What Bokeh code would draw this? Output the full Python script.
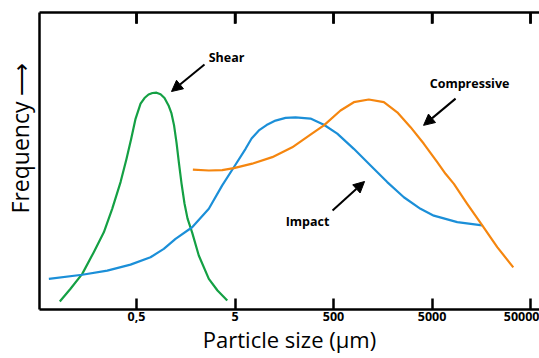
from bokeh.plotting import figure
from bokeh.models import FixedTicker, LinearAxis, Range1d, Arrow, NormalHead
from bokeh.core.properties import value
from bokeh.embed import file_html
from bokeh.resources import INLINE

# tick positions (equally spaced) and labels
tick_pos = [0, 1, 2, 3, 4]
tick_labels = ["0,5", "5", "500", "5000", "50000"]

# Shear (green)
shear_x = [-0.779, -0.670, -0.551, -0.434, -0.332, -0.247, -0.162, -0.102, -0.054, -0.010,
           0.041, 0.081, 0.122, 0.162, 0.203, 0.244, 0.284, 0.325, 0.355, 0.381,
           0.406, 0.431, 0.457, 0.487, 0.518, 0.565, 0.632, 0.734, 0.822, 0.921]
shear_y = [2.7, 7.0, 12.0, 19.3, 26.0, 33.9, 42.9, 50.7, 57.5, 64.2,
           69.3, 71.2, 72.4, 72.9, 73.0, 72.5, 71.2, 68.7, 66.0, 62.0,
           56.2, 49.2, 42.4, 35.7, 30.6, 25.9, 18.2, 10.3, 6.4, 3.0]

# Impact (blue)
impact_x = [-0.890, -0.551, -0.297, -0.061, 0.142, 0.277, 0.396, 0.565, 0.734, 0.870,
            0.988, 1.107, 1.168, 1.242, 1.320, 1.411, 1.513, 1.614, 1.766, 1.902,
            2.038, 2.206, 2.376, 2.545, 2.714, 2.883, 3.018, 3.137, 3.256, 3.510]
impact_y = [10.3, 11.7, 13.1, 15.1, 17.6, 20.4, 23.8, 27.7, 33.9, 41.8,
            47.9, 54.1, 57.6, 60.3, 62.1, 63.6, 64.5, 64.7, 64.3, 62.2,
            59.2, 54.1, 48.5, 42.9, 37.8, 33.9, 31.6, 30.5, 29.4, 28.3]

# Compressive (orange)
comp_x = [0.572, 0.734, 0.870, 0.988, 1.175, 1.378, 1.581, 1.766, 1.902, 2.071,
          2.206, 2.358, 2.511, 2.647, 2.782, 2.917, 3.053, 3.137, 3.222, 3.357,
          3.510, 3.662, 3.825]
comp_y = [47.1, 46.8, 46.9, 47.6, 49.1, 51.3, 54.6, 58.9, 62.0, 67.0,
          69.8, 70.7, 69.8, 66.4, 61.4, 55.8, 49.6, 45.7, 42.3, 35.6,
          28.3, 21.0, 14.2]

# annotations: label text, label position, arrow start, arrow end
ann_text = ["Shear", "Compressive", "Impact"]
ann_x = [0.914, 3.381, 1.736]
ann_y = [84.8, 76.1, 29.6]
arr_x0 = [0.690, 3.239, 1.990]
arr_y0 = [82.5, 71.0, 33.3]
arr_x1 = [0.355, 2.914, 2.315]
arr_y1 = [73.4, 62.0, 43.1]

FONT = "Open Sans"

p = figure(width=539, height=358, output_backend="svg", toolbar_location=None,
           x_range=Range1d(-0.985, 4.091), y_range=Range1d(0, 100),
           min_border_left=39, min_border_right=0, min_border_top=12, min_border_bottom=49)
p.outline_line_color = None
p.xgrid.visible = False
p.ygrid.visible = False
p.background_fill_color = "white"
p.border_fill_color = "white"

xa = p.xaxis[0]
xa.ticker = FixedTicker(ticks=tick_pos)
xa.major_label_overrides = {t: l for t, l in zip(tick_pos, tick_labels)}
xa.major_tick_in = 11
xa.major_tick_out = 0
xa.minor_tick_line_color = None
xa.axis_line_width = 2.5
xa.major_tick_line_width = 2.5
xa.axis_line_color = "black"
xa.major_tick_line_color = "black"
xa.major_label_text_font = FONT
xa.major_label_text_font_style = "bold"
xa.major_label_text_font_size = "12.5px"
xa.major_label_text_color = "black"
xa.major_label_standoff = 2
xa.axis_label = "Particle size (μm)"
xa.axis_label_text_font = FONT
xa.axis_label_text_font_style = "normal"
xa.axis_label_text_font_size = "22px"
xa.axis_label_text_color = "black"
xa.axis_label_standoff = 0

top = LinearAxis(ticker=FixedTicker(ticks=tick_pos))
top.major_tick_in = 11
top.major_tick_out = 0
top.minor_tick_line_color = None
top.axis_line_width = 2.5
top.major_tick_line_width = 2.5
top.axis_line_color = "black"
top.major_tick_line_color = "black"
top.major_label_text_font_size = "0px"
top.major_label_standoff = 0
top.major_label_text_color = None
p.add_layout(top, "above")

ya = p.yaxis[0]
ya.major_tick_line_color = None
ya.minor_tick_line_color = None
ya.major_label_text_font_size = "0px"
ya.major_label_text_color = None
ya.major_label_standoff = 0
ya.axis_line_width = 2.5
ya.axis_line_color = "black"
ya.axis_label = "\u2003\u2003Frequency \u27f6"
ya.axis_label_text_font = FONT
ya.axis_label_text_font_style = "normal"
ya.axis_label_text_font_size = "23px"
ya.axis_label_text_color = "black"
ya.axis_label_standoff = -2

# inward tick marks along the top edge (at the same tick positions)
p.segment(x0=tick_pos, x1=tick_pos, y0=[100] * len(tick_pos), y1=[96.2] * len(tick_pos),
          line_color="black", line_width=2.5)

p.line(shear_x, shear_y, line_color="#14a044", line_width=2.2, line_join="round")
p.line(impact_x, impact_y, line_color="#1b8fd8", line_width=2.2, line_join="round")
p.line(comp_x, comp_y, line_color="#f5860f", line_width=2.2, line_join="round")

p.text(x=ann_x, y=ann_y, text=ann_text, text_font=value(FONT), text_font_style="bold",
       text_font_size="12.5px", text_align="center", text_baseline="middle", text_color="black")

for x0, y0, x1, y1 in zip(arr_x0, arr_y0, arr_x1, arr_y1):
    p.add_layout(Arrow(x_start=x0, y_start=y0, x_end=x1, y_end=y1, line_width=2,
                       line_color="black",
                       end=NormalHead(size=11, fill_color="black", line_color="black")))

open("out.html", "w").write(file_html(p, INLINE))
